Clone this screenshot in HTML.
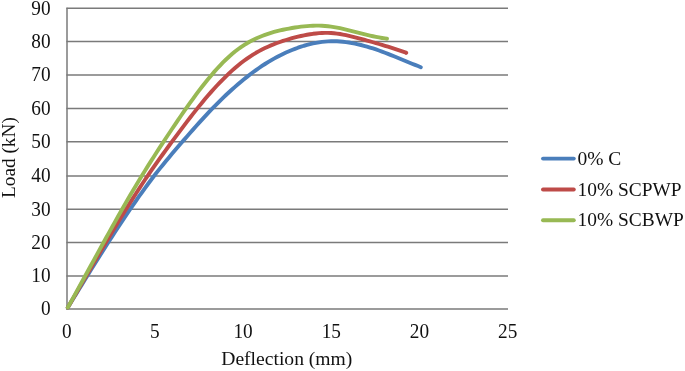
<!DOCTYPE html>
<html><head><meta charset="utf-8"><title>Load-Deflection</title>
<style>
html,body{margin:0;padding:0;background:#fff;}
body{width:685px;height:371px;overflow:hidden;}
svg{display:block;}
svg text{font-family:"Liberation Serif","Times New Roman",serif;font-size:19.3px;fill:#111;}
</style></head>
<body>
<svg width="685" height="371" viewBox="0 0 685 371">
<rect width="685" height="371" fill="#fff"/>
<g stroke="#7a7a7a" stroke-width="1.5" fill="none">
<line x1="66.4" y1="309.10" x2="508" y2="309.10"/>
<line x1="66.4" y1="276.00" x2="508" y2="276.00"/>
<line x1="66.4" y1="242.40" x2="508" y2="242.40"/>
<line x1="66.4" y1="209.30" x2="508" y2="209.30"/>
<line x1="66.4" y1="175.95" x2="508" y2="175.95"/>
<line x1="66.4" y1="141.75" x2="508" y2="141.75"/>
<line x1="66.4" y1="108.40" x2="508" y2="108.40"/>
<line x1="66.4" y1="75.00" x2="508" y2="75.00"/>
<line x1="66.4" y1="41.60" x2="508" y2="41.60"/>
<line x1="66.4" y1="8.35" x2="508" y2="8.35"/>
<line x1="67.0" y1="7.85" x2="67.0" y2="309.7"/>
</g>
<g fill="none" stroke-width="3.9" stroke-linecap="round" stroke-linejoin="round">
<path stroke="#4a7ebb" d="M67.8,307.50 L70.0,304.04 L73.0,299.10 L76.0,294.18 L79.0,289.27 L82.0,284.38 L85.0,279.51 L88.0,274.65 L91.0,269.82 L94.0,265.01 L97.0,260.22 L100.0,255.45 L103.0,250.71 L106.0,246.00 L109.0,241.32 L112.0,236.68 L115.0,232.06 L118.0,227.48 L121.0,222.93 L124.0,218.42 L127.0,213.94 L130.0,209.51 L133.0,205.12 L136.0,200.78 L139.0,196.49 L142.0,192.27 L145.0,188.10 L148.0,184.01 L151.0,179.99 L154.0,176.05 L157.0,172.18 L160.0,168.39 L163.0,164.66 L166.0,161.00 L169.0,157.39 L172.0,153.83 L175.0,150.30 L178.0,146.81 L181.0,143.34 L184.0,139.89 L187.0,136.45 L190.0,133.03 L193.0,129.63 L196.0,126.26 L199.0,122.91 L202.0,119.60 L205.0,116.34 L208.0,113.12 L211.0,109.95 L214.0,106.84 L217.0,103.79 L220.0,100.81 L223.0,97.89 L226.0,95.03 L229.0,92.24 L232.0,89.52 L235.0,86.86 L238.0,84.27 L241.0,81.74 L244.0,79.28 L247.0,76.89 L250.0,74.56 L253.0,72.30 L256.0,70.11 L259.0,68.00 L262.0,65.96 L265.0,64.00 L268.0,62.12 L271.0,60.33 L274.0,58.61 L277.0,56.98 L280.0,55.42 L283.0,53.95 L286.0,52.55 L289.0,51.23 L292.0,49.98 L295.0,48.81 L298.0,47.71 L301.0,46.69 L304.0,45.75 L307.0,44.90 L310.0,44.12 L313.0,43.43 L316.0,42.84 L319.0,42.33 L322.0,41.92 L325.0,41.61 L328.0,41.39 L331.0,41.27 L334.0,41.24 L337.0,41.32 L340.0,41.48 L343.0,41.75 L346.0,42.10 L349.0,42.54 L352.0,43.05 L355.0,43.64 L358.0,44.30 L361.0,45.02 L364.0,45.80 L367.0,46.64 L370.0,47.53 L373.0,48.47 L376.0,49.46 L379.0,50.50 L382.0,51.59 L385.0,52.71 L388.0,53.88 L391.0,55.07 L394.0,56.29 L397.0,57.53 L400.0,58.78 L403.0,60.02 L406.0,61.26 L409.0,62.49 L412.0,63.70 L415.0,64.89 L418.0,66.05 L420.8,67.20"/>
<path stroke="#be4b48" d="M67.8,307.50 L70.0,303.81 L73.0,298.62 L76.0,293.44 L79.0,288.27 L82.0,283.10 L85.0,277.95 L88.0,272.80 L91.0,267.66 L94.0,262.54 L97.0,257.42 L100.0,252.33 L103.0,247.25 L106.0,242.19 L109.0,237.16 L112.0,232.15 L115.0,227.17 L118.0,222.23 L121.0,217.31 L124.0,212.44 L127.0,207.62 L130.0,202.84 L133.0,198.11 L136.0,193.44 L139.0,188.82 L142.0,184.27 L145.0,179.77 L148.0,175.34 L151.0,170.97 L154.0,166.65 L157.0,162.39 L160.0,158.17 L163.0,153.99 L166.0,149.85 L169.0,145.74 L172.0,141.66 L175.0,137.60 L178.0,133.56 L181.0,129.56 L184.0,125.58 L187.0,121.64 L190.0,117.74 L193.0,113.89 L196.0,110.10 L199.0,106.36 L202.0,102.69 L205.0,99.10 L208.0,95.58 L211.0,92.14 L214.0,88.79 L217.0,85.52 L220.0,82.35 L223.0,79.28 L226.0,76.30 L229.0,73.43 L232.0,70.67 L235.0,68.01 L238.0,65.47 L241.0,63.05 L244.0,60.76 L247.0,58.58 L250.0,56.53 L253.0,54.61 L256.0,52.80 L259.0,51.12 L262.0,49.54 L265.0,48.07 L268.0,46.70 L271.0,45.41 L274.0,44.19 L277.0,43.05 L280.0,41.98 L283.0,40.96 L286.0,40.00 L289.0,39.09 L292.0,38.23 L295.0,37.43 L298.0,36.68 L301.0,35.98 L304.0,35.34 L307.0,34.76 L310.0,34.25 L313.0,33.81 L316.0,33.45 L319.0,33.17 L322.0,32.98 L325.0,32.89 L328.0,32.91 L331.0,33.03 L334.0,33.26 L337.0,33.60 L340.0,34.03 L343.0,34.55 L346.0,35.15 L349.0,35.82 L352.0,36.54 L355.0,37.30 L358.0,38.09 L361.0,38.89 L364.0,39.72 L367.0,40.55 L370.0,41.39 L373.0,42.25 L376.0,43.12 L379.0,44.00 L382.0,44.90 L385.0,45.81 L388.0,46.73 L391.0,47.67 L394.0,48.62 L397.0,49.59 L400.0,50.56 L403.0,51.54 L406.0,52.54 L406.2,52.87"/>
<path stroke="#98b954" d="M67.8,307.50 L70.0,303.55 L73.0,298.09 L76.0,292.63 L79.0,287.16 L82.0,281.70 L85.0,276.24 L88.0,270.78 L91.0,265.31 L94.0,259.85 L97.0,254.39 L100.0,248.93 L103.0,243.48 L106.0,238.04 L109.0,232.62 L112.0,227.22 L115.0,221.84 L118.0,216.50 L121.0,211.20 L124.0,205.95 L127.0,200.74 L130.0,195.59 L133.0,190.50 L136.0,185.46 L139.0,180.48 L142.0,175.56 L145.0,170.70 L148.0,165.90 L151.0,161.14 L154.0,156.44 L157.0,151.78 L160.0,147.16 L163.0,142.58 L166.0,138.03 L169.0,133.51 L172.0,129.02 L175.0,124.56 L178.0,120.14 L181.0,115.76 L184.0,111.43 L187.0,107.15 L190.0,102.92 L193.0,98.77 L196.0,94.69 L199.0,90.68 L202.0,86.77 L205.0,82.95 L208.0,79.24 L211.0,75.63 L214.0,72.14 L217.0,68.78 L220.0,65.55 L223.0,62.45 L226.0,59.50 L229.0,56.70 L232.0,54.05 L235.0,51.57 L238.0,49.25 L241.0,47.09 L244.0,45.09 L247.0,43.24 L250.0,41.54 L253.0,39.97 L256.0,38.53 L259.0,37.19 L262.0,35.97 L265.0,34.84 L268.0,33.80 L271.0,32.85 L274.0,31.98 L277.0,31.17 L280.0,30.43 L283.0,29.75 L286.0,29.12 L289.0,28.54 L292.0,28.01 L295.0,27.52 L298.0,27.08 L301.0,26.69 L304.0,26.36 L307.0,26.08 L310.0,25.86 L313.0,25.72 L316.0,25.65 L319.0,25.67 L322.0,25.78 L325.0,25.97 L328.0,26.25 L331.0,26.62 L334.0,27.07 L337.0,27.60 L340.0,28.20 L343.0,28.86 L346.0,29.57 L349.0,30.32 L352.0,31.09 L355.0,31.88 L358.0,32.67 L361.0,33.45 L364.0,34.21 L367.0,34.94 L370.0,35.63 L373.0,36.28 L376.0,36.88 L379.0,37.44 L382.0,37.96 L385.0,38.42 L387.0,38.71"/>
</g>
<g>
<text transform="translate(50.6,315.4) scale(1,1.055)" text-anchor="end">0</text>
<text transform="translate(50.6,282.3) scale(1,1.055)" text-anchor="end">10</text>
<text transform="translate(50.6,248.7) scale(1,1.055)" text-anchor="end">20</text>
<text transform="translate(50.6,215.6) scale(1,1.055)" text-anchor="end">30</text>
<text transform="translate(50.6,182.2) scale(1,1.055)" text-anchor="end">40</text>
<text transform="translate(50.6,148.1) scale(1,1.055)" text-anchor="end">50</text>
<text transform="translate(50.6,114.7) scale(1,1.055)" text-anchor="end">60</text>
<text transform="translate(50.6,81.3) scale(1,1.055)" text-anchor="end">70</text>
<text transform="translate(50.6,47.9) scale(1,1.055)" text-anchor="end">80</text>
<text transform="translate(50.6,14.6) scale(1,1.055)" text-anchor="end">90</text>
<text transform="translate(66.7,337.5) scale(1,1.055)" text-anchor="middle">0</text>
<text transform="translate(154.9,337.5) scale(1,1.055)" text-anchor="middle">5</text>
<text transform="translate(243.1,337.5) scale(1,1.055)" text-anchor="middle">10</text>
<text transform="translate(331.3,337.5) scale(1,1.055)" text-anchor="middle">15</text>
<text transform="translate(419.5,337.5) scale(1,1.055)" text-anchor="middle">20</text>
<text transform="translate(507.7,337.5) scale(1,1.055)" text-anchor="middle">25</text>
</g>
<text x="286.8" y="364.6" text-anchor="middle" style="font-size:19.6px">Deflection (mm)</text>
<text transform="translate(14.5,157.6) rotate(-90)" text-anchor="middle">Load (kN)</text>
<g fill="none" stroke-width="3.9" stroke-linecap="round">
<line x1="543" y1="158.6" x2="573.8" y2="158.6" stroke="#4a7ebb"/>
<line x1="543" y1="189.5" x2="573.8" y2="189.5" stroke="#be4b48"/>
<line x1="543" y1="220.2" x2="573.8" y2="220.2" stroke="#98b954"/>
</g>
<text x="577.4" y="164.7" style="font-size:19.5px">0% C</text>
<text x="577.6" y="195.7" style="font-size:19.4px">10% SCPWP</text>
<text x="577.6" y="226.4" style="font-size:19.4px">10% SCBWP</text>
</svg>
</body></html>
